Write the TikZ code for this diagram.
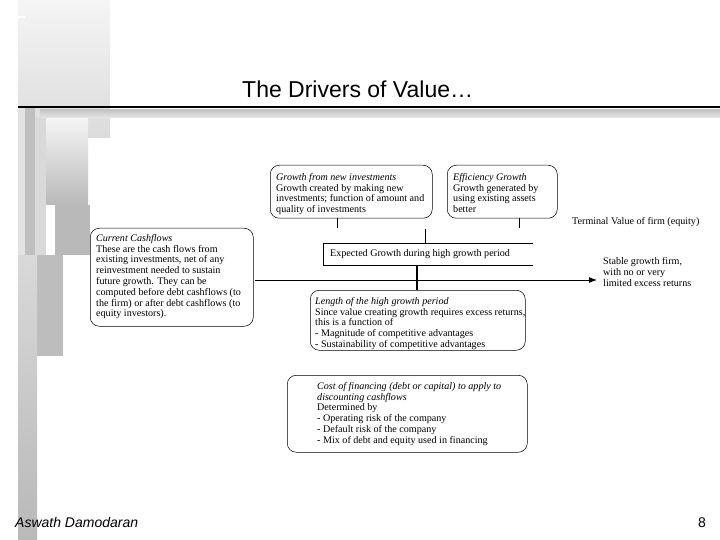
\documentclass[tikz,border=0pt]{standalone}
\usepackage{fontspec}
\setmainfont{Liberation Serif}
\setsansfont{Liberation Sans}
\usetikzlibrary{arrows.meta}
\begin{document}
\begin{tikzpicture}[x=1pt,y=-1pt,
  drvframe/.style={draw, line width=0.5pt, rounded corners=9pt, anchor=north west, inner sep=0pt},
  drvtext/.style={align=left, inner sep=0pt, anchor=north west, font=\fontsize{10.1}{10.8}\selectfont},
  tickln/.style={line width=0.6pt},
  heavyln/.style={line width=2pt},
]
\useasboundingbox (0,0) rectangle (720,540);
\fill[white] (0,0) rectangle (720,540);
% decorative left panels
\shade[top color=gray!8, bottom color=gray!28] (18,0) rectangle (110,138);
\fill[white] (18,16) rectangle (25,18);
\fill[gray!22] (18,107) rectangle (25,255);
\fill[gray!50] (25,107) rectangle (35,255);
\fill[gray!30] (35,118) rectangle (46,255);
\shade[top color=gray!8, bottom color=gray!55] (46,118) rectangle (88,205);
\fill[gray!55] (55,205) rectangle (90,255);
\fill[gray!52] (32,255) rectangle (63,356);
\shade[top color=gray!30, bottom color=gray!55] (18,255) rectangle (37,540);
\shade[top color=gray!45, bottom color=gray!20] (40,110) rectangle (720,118);
\draw[line width=2pt] (18,107) -- (720,107);
% title
\node[anchor=base west, inner sep=0pt, font=\sffamily\fontsize{23}{27}\selectfont] (title) at (242,98) {The Drivers of Value…};
% box frames
\node[drvframe, minimum width=162pt, minimum height=53pt] (gnew) at (270,165) {};
\node[drvframe, minimum width=110pt, minimum height=53pt] (geff) at (447,165) {};
\node[drvframe, minimum width=163pt, minimum height=98pt] (ccf) at (90,228) {};
\node[drvframe, minimum width=215pt, minimum height=60pt] (len) at (310,290) {};
\node[drvframe, minimum width=240pt, minimum height=77pt] (cost) at (287,375) {};
% box texts
\node[drvtext] (gnewt) at ([xshift=6pt,yshift=-8pt]gnew.north west) {\textit{Growth from new investments}\\Growth created by making new\\investments; function of amount and\\quality of investments};
\node[drvtext] (gefft) at ([xshift=6pt,yshift=-8pt]geff.north west) {\textit{Efficiency Growth}\\Growth generated by\\using existing assets\\better};
\node[drvtext] (ccft) at ([xshift=6pt,yshift=-6pt]ccf.north west) {\textit{Current Cashflows}\\These are the cash flows from\\existing investments, net of any\\reinvestment needed to sustain\\future growth. They can be\\computed before debt cashflows (to\\the firm) or after debt cashflows (to\\equity investors).};
\node[drvtext] (lent) at ([xshift=5pt,yshift=-7pt]len.north west) {\textit{Length of the high growth period}\\Since value creating growth requires excess returns,\\this is a function of\\- Magnitude of competitive advantages\\- Sustainability of competitive advantages};
\node[drvtext] (costt) at ([xshift=30pt,yshift=-7pt]cost.north west) {\textit{Cost of financing (debt or capital) to apply to}\\\textit{discounting cashflows}\\Determined by\\- Operating risk of the company\\- Default risk of the company\\- Mix of debt and equity used in financing};
% expected growth box (open on the right)
\node[drvtext, anchor=west] (exp) at (330,254) {Expected Growth during high growth period};
\coordinate (expTL) at (323,243);
\coordinate (expBL) at (323,265);
\coordinate (expTR) at (533,243);
\coordinate (expBR) at (533,265);
\draw[line width=0.6pt] (expTR) -- (expTL) -- (expBL) -- (expBR);
% right texts
\node[drvtext, anchor=west] (term) at (572,222) {Terminal Value of firm (equity)};
\node[drvtext, anchor=north west] (stable) at (603,257.5) {Stable growth firm,\\with no or very\\limited excess returns};
% connectors
\coordinate (gtick) at (337,228);
\coordinate (etick) at (519,228);
\coordinate (midtop) at (425,229);
\coordinate (midbot) at (425,243);
\coordinate (heavytop) at (417,265);
\coordinate (heavybot) at (417,290);
\coordinate (arrstart) at (255,280);
\coordinate (arrend) at (597,280);
\draw[tickln] (gnew.south -| gtick) -- (gtick);
\draw[tickln] (geff.south -| etick) -- (etick);
\draw[tickln] (midtop) -- (midbot);
\draw[heavyln] (heavytop) -- (heavybot);
\draw[line width=1pt, -{Latex[length=8pt,width=6pt]}] (arrstart) -- (arrend);
% footer
\node[anchor=base west, inner sep=0pt, font=\sffamily\itshape\fontsize{14}{16}\selectfont] (author) at (15,527) {Aswath Damodaran};
\node[anchor=base east, inner sep=0pt, font=\sffamily\fontsize{14}{16}\selectfont] (page) at (706,527) {8};
\end{tikzpicture}
\end{document}
